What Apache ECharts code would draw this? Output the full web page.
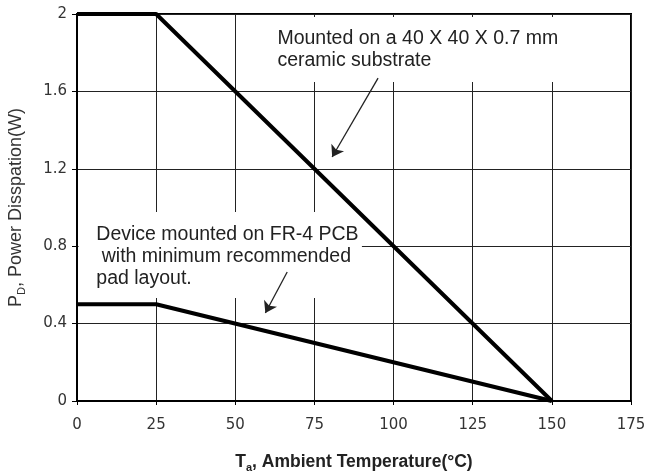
<!DOCTYPE html>
<html>
<head>
<meta charset="utf-8">
<script src="https://cdn.jsdelivr.net/npm/echarts@6/dist/echarts.min.js"></script>
<style>
html,body{margin:0;padding:0;background:#fff;}
#chart{width:649px;height:474px;}
</style>
</head>
<body>
<div id="chart"></div>
<script>
// ---- data ----
const tempsCeramic = [0, 25, 150];
const pdCeramic = [2, 2, 0];
const tempsPCB = [0, 25, 150];
const pdPCB = [0.5, 0.5, 0];
const xMin = 0, xMax = 175, xStep = 25;
const yMin = 0, yMax = 2, yStep = 0.4;
const noteCeramic = 'Mounted on a 40 X 40 X 0.7 mm\nceramic substrate';
const notePCB = 'Device mounted on FR-4 PCB\n with minimum recommended\npad layout.';
// annotation anchors in data units
const noteCeramicAt = [63.3, 1.93];
const notePCBAt = [6.1, 0.915];
const arrowCeramic = [[95.1, 1.669], [80.6, 1.261]];
const arrowPCB = [[66.4, 0.667], [59.5, 0.455]];
const boxCeramic = [[61, 1.985], [162, 1.649]];
const boxPCB = [[0.5, 0.977], [90, 0.532]];

const chart = echarts.init(document.getElementById('chart'), null, {renderer: 'canvas'});
const pair = (xs, ys) => xs.map((x, i) => [x, ys[i]]);
const tickFont = {fontFamily: 'DejaVu Sans', fontSize: 15, color: '#333'};

const option = {
  animation: false,
  backgroundColor: '#fff',
  grid: {left: 77, right: 18, top: 14, bottom: 73, containLabel: false, outerBoundsMode: 'none',
    show: true, borderColor: '#000', borderWidth: 2, backgroundColor: 'transparent'},
  xAxis: {
    type: 'value', min: xMin, max: xMax, interval: xStep,
    name: '{b|T}{s|a}{b|, Ambient Temperature(°C)}',
    nameLocation: 'middle', nameGap: 50,
    nameTextStyle: {
      rich: {
        b: {fontFamily: 'Liberation Sans', fontWeight: 'bold', fontSize: 17.5, color: '#222', lineHeight: 22},
        s: {fontFamily: 'Liberation Sans', fontWeight: 'bold', fontSize: 11, color: '#222', verticalAlign: 'bottom', lineHeight: 22}
      }
    },
    axisLine: {show: true, lineStyle: {color: '#000', width: 2}},
    axisTick: {show: true, inside: false, length: 4, lineStyle: {color: '#000', width: 1}},
    axisLabel: Object.assign({margin: 17}, tickFont),
    splitLine: {show: true, lineStyle: {color: '#222', width: 1}}
  },
  yAxis: {
    type: 'value', min: yMin, max: yMax, interval: yStep,
    name: '{m|P}{s|D}{m|, Power Disspation(W)}',
    nameLocation: 'middle', nameGap: 50,
    nameTextStyle: {
      rich: {
        m: {fontFamily: 'Liberation Sans', fontSize: 18, color: '#333', lineHeight: 22},
        s: {fontFamily: 'Liberation Sans', fontSize: 11, color: '#333', verticalAlign: 'bottom', lineHeight: 22}
      }
    },
    axisLine: {show: true, lineStyle: {color: '#000', width: 2}},
    axisTick: {show: true, inside: false, length: 5, lineStyle: {color: '#000', width: 1}},
    axisLabel: Object.assign({margin: 10}, tickFont),
    splitLine: {show: true, lineStyle: {color: '#222', width: 1}}
  },
  series: [
    {
      type: 'line', data: pair(tempsCeramic, pdCeramic), symbol: 'none', z: 5,
      lineStyle: {color: '#000', width: 4},
      markLine: {
        silent: true, symbol: ['none', 'arrow'], symbolSize: 11,
        label: {show: false},
        lineStyle: {color: '#222', width: 1.3, type: 'solid'},
        data: [
          [{coord: arrowCeramic[0]}, {coord: arrowCeramic[1]}],
          [{coord: arrowPCB[0]}, {coord: arrowPCB[1]}]
        ]
      }
    },
    {
      type: 'line', data: pair(tempsPCB, pdPCB), symbol: 'none', z: 5,
      lineStyle: {color: '#000', width: 4}
    }
  ]
};
chart.setOption(option);

const px = p => chart.convertToPixel({gridIndex: 0}, p);
function boxRect(b) {
  const a = px(b[0]), c = px(b[1]);
  return {type: 'rect', z: 1, silent: true,
    shape: {x: Math.min(a[0], c[0]), y: Math.min(a[1], c[1]), width: Math.abs(c[0] - a[0]), height: Math.abs(c[1] - a[1])},
    style: {fill: '#fff'}};
}
function note(text, at) {
  const p = px(at);
  return {type: 'text', z: 3, silent: true, x: p[0], y: p[1],
    style: {text: text, fill: '#222', font: '19.5px "Liberation Sans"', lineHeight: 22, verticalAlign: 'top', align: 'left'}};
}
chart.setOption({
  graphic: [boxRect(boxCeramic), boxRect(boxPCB), note(noteCeramic, noteCeramicAt), note(notePCB, notePCBAt)]
});
</script>
</body>
</html>
